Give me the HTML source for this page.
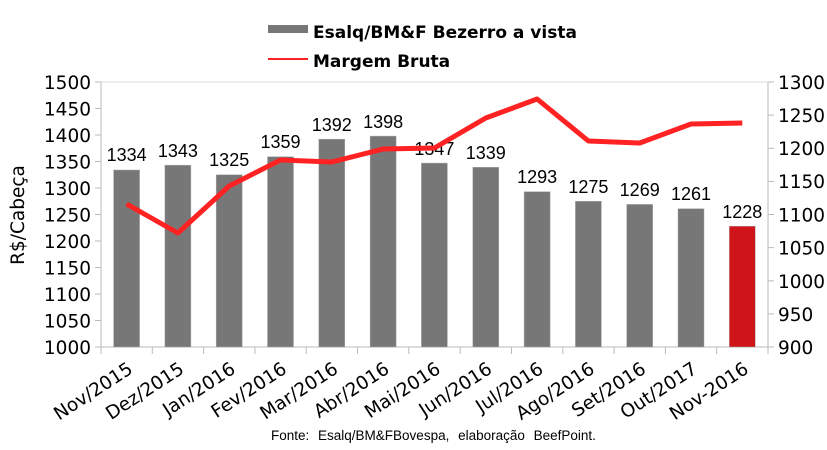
<!DOCTYPE html>
<html><head><meta charset="utf-8"><style>
html,body{margin:0;padding:0;background:#fff;}
svg{display:block;}
.t{font-family:"DejaVu Sans",sans-serif;font-size:18.5px;fill:#000;}
.b{font-family:"Liberation Sans",sans-serif;font-size:18px;fill:#000;text-anchor:middle;}
</style></head><body>
<svg width="827" height="450" viewBox="0 0 827 450" xmlns="http://www.w3.org/2000/svg">
<rect x="268" y="25" width="40" height="8" fill="#777"/>
<text x="313" y="38" style="font-family:'DejaVu Sans',sans-serif;font-weight:bold;font-size:17px">Esalq/BM&amp;F Bezerro a vista</text>
<line x1="268" y1="59" x2="308" y2="59" stroke="#f22" stroke-width="2"/>
<text x="313" y="67" style="font-family:'DejaVu Sans',sans-serif;font-weight:bold;font-size:17px">Margem Bruta</text>
<line x1="101" y1="82" x2="768" y2="82" stroke="#ddd"/>
<line x1="101" y1="82" x2="101" y2="347" stroke="#bbb"/>
<line x1="768" y1="82" x2="768" y2="347" stroke="#bbb"/>
<line x1="101" y1="347" x2="768" y2="347" stroke="#bbb"/>
<g stroke="#bbb">
<line x1="95" y1="82" x2="101" y2="82"/><line x1="95" y1="108.5" x2="101" y2="108.5"/><line x1="95" y1="135" x2="101" y2="135"/><line x1="95" y1="161.5" x2="101" y2="161.5"/><line x1="95" y1="188" x2="101" y2="188"/><line x1="95" y1="214.5" x2="101" y2="214.5"/><line x1="95" y1="241" x2="101" y2="241"/><line x1="95" y1="267.5" x2="101" y2="267.5"/><line x1="95" y1="294" x2="101" y2="294"/><line x1="95" y1="320.5" x2="101" y2="320.5"/><line x1="95" y1="347" x2="101" y2="347"/>
<line x1="768" y1="82" x2="774" y2="82"/><line x1="768" y1="115.1" x2="774" y2="115.1"/><line x1="768" y1="148.3" x2="774" y2="148.3"/><line x1="768" y1="181.4" x2="774" y2="181.4"/><line x1="768" y1="214.5" x2="774" y2="214.5"/><line x1="768" y1="247.6" x2="774" y2="247.6"/><line x1="768" y1="280.8" x2="774" y2="280.8"/><line x1="768" y1="313.9" x2="774" y2="313.9"/><line x1="768" y1="347" x2="774" y2="347"/>
<line x1="101" y1="347" x2="101" y2="354"/><line x1="152.3" y1="347" x2="152.3" y2="354"/><line x1="203.6" y1="347" x2="203.6" y2="354"/><line x1="254.9" y1="347" x2="254.9" y2="354"/><line x1="306.2" y1="347" x2="306.2" y2="354"/><line x1="357.5" y1="347" x2="357.5" y2="354"/><line x1="408.8" y1="347" x2="408.8" y2="354"/><line x1="460.2" y1="347" x2="460.2" y2="354"/><line x1="511.5" y1="347" x2="511.5" y2="354"/><line x1="562.8" y1="347" x2="562.8" y2="354"/><line x1="614.1" y1="347" x2="614.1" y2="354"/><line x1="665.4" y1="347" x2="665.4" y2="354"/><line x1="716.7" y1="347" x2="716.7" y2="354"/><line x1="768" y1="347" x2="768" y2="354"/>
</g>
<g class="t" text-anchor="end">
<text x="91" y="89">1500</text><text x="91" y="115.5">1450</text><text x="91" y="142">1400</text><text x="91" y="168.5">1350</text><text x="91" y="195">1300</text><text x="91" y="221.5">1250</text><text x="91" y="248">1200</text><text x="91" y="274.5">1150</text><text x="91" y="301">1100</text><text x="91" y="327.5">1050</text><text x="91" y="354">1000</text>
</g>
<g class="t">
<text x="778" y="89">1300</text><text x="778" y="122">1250</text><text x="778" y="155">1200</text><text x="778" y="188">1150</text><text x="778" y="221.5">1100</text><text x="778" y="254.5">1050</text><text x="778" y="288">1000</text><text x="778" y="321">950</text><text x="778" y="354">900</text>
</g>
<text class="t" transform="translate(24,215) rotate(-90)" text-anchor="middle">R$/Cabeça</text>
<g fill="#777" stroke="#aaa" stroke-width="0.5">
<rect x="113.6" y="170" width="26" height="177"/>
<rect x="164.9" y="165.2" width="26" height="181.8"/>
<rect x="216.2" y="174.8" width="26" height="172.2"/>
<rect x="267.5" y="156.7" width="26" height="190.3"/>
<rect x="318.8" y="139.2" width="26" height="207.8"/>
<rect x="370.1" y="136.1" width="26" height="210.9"/>
<rect x="421.4" y="163.1" width="26" height="183.9"/>
<rect x="472.8" y="167.3" width="26" height="179.7"/>
<rect x="524.1" y="191.7" width="26" height="155.3"/>
<rect x="575.4" y="201.3" width="26" height="145.7"/>
<rect x="626.7" y="204.4" width="26" height="142.6"/>
<rect x="678" y="208.7" width="26" height="138.3"/>
<rect x="729.3" y="226.2" width="26" height="120.8" fill="#d0151a"/>
</g>
<g class="b">
<text x="126.6" y="161">1334</text><text x="177.9" y="157">1343</text><text x="229.2" y="166">1325</text><text x="280.5" y="148">1359</text><text x="331.8" y="131">1392</text><text x="383.1" y="128">1398</text><text x="434.4" y="155">1347</text><text x="485.8" y="159">1339</text><text x="537.1" y="183">1293</text><text x="588.4" y="193">1275</text><text x="639.7" y="196">1269</text><text x="691" y="200">1261</text><text x="742.3" y="218">1228</text>
</g>
<polyline fill="none" stroke="#f22" stroke-width="5" stroke-linejoin="round" points="126.6,204 177.9,233 229.2,186 280.5,160 331.8,162 383.1,149 434.4,148 485.8,118 537.1,99 588.4,141 639.7,143 691,124 742.3,123"/>
<g class="t" text-anchor="end">
<text transform="translate(134,372) rotate(-33)">Nov/2015</text>
<text transform="translate(185.3,372) rotate(-33)">Dez/2015</text>
<text transform="translate(236.6,372) rotate(-33)">Jan/2016</text>
<text transform="translate(287.9,372) rotate(-33)">Fev/2016</text>
<text transform="translate(339.2,372) rotate(-33)">Mar/2016</text>
<text transform="translate(390.5,372) rotate(-33)">Abr/2016</text>
<text transform="translate(441.8,372) rotate(-33)">Mai/2016</text>
<text transform="translate(493.2,372) rotate(-33)">Jun/2016</text>
<text transform="translate(544.5,372) rotate(-33)">Jul/2016</text>
<text transform="translate(595.8,372) rotate(-33)">Ago/2016</text>
<text transform="translate(647.1,372) rotate(-33)">Set/2016</text>
<text transform="translate(698.4,372) rotate(-33)">Out/2017</text>
<text transform="translate(749.7,372) rotate(-33)">Nov-2016</text>
</g>
<text x="271" y="440" style="font-family:'Liberation Sans',sans-serif;font-size:13.5px;word-spacing:5px">Fonte: Esalq/BM&amp;FBovespa, elaboração BeefPoint.</text>
</svg>
</body></html>
